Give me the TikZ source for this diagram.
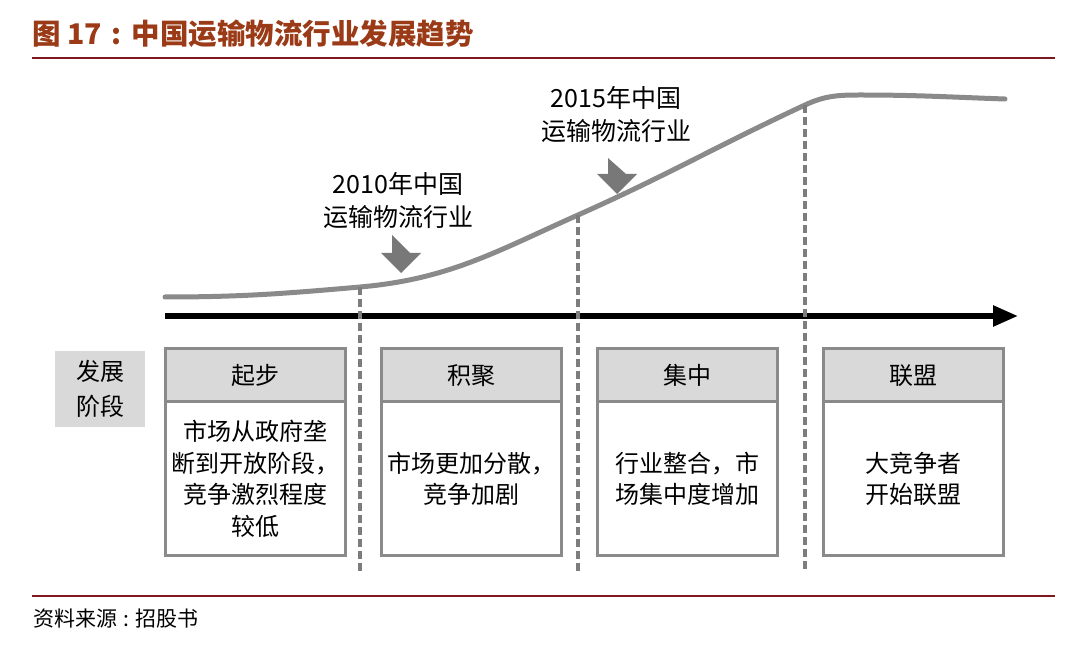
\documentclass[tikz,border=0pt]{standalone}
\usepackage{fontspec}
\newfontfamily\cjk{Noto Sans CJK SC}
\usetikzlibrary{arrows.meta,positioning}
\definecolor{titlebrown}{RGB}{155,58,22}
\definecolor{rulered}{RGB}{125,25,30}
\definecolor{linegray}{RGB}{138,138,138}
\definecolor{dashgray}{RGB}{125,125,125}
\definecolor{headgray}{RGB}{217,217,217}
\definecolor{arrowgray}{RGB}{120,120,120}
\tikzset{
  stagehead/.style={draw=linegray, line width=3pt, fill=headgray, outer sep=0pt,
    minimum width=180pt, minimum height=53pt, inner sep=0pt,
    font=\cjk\fontsize{24}{30}\selectfont},
  stagebody/.style={draw=linegray, line width=3pt, fill=white, outer sep=0pt,
    minimum width=180pt, minimum height=154pt, inner sep=0pt, align=center,
    font=\cjk\fontsize{24}{31.5}\selectfont},
  yearlabel/.style={align=center, inner sep=0pt, font=\cjk\fontsize{25}{33}\selectfont},
  phaseline/.style={draw=dashgray, line width=3.6pt, dash pattern=on 8pt off 4pt},
  downarrow/.style={fill=arrowgray},
}
\begin{document}
\begin{tikzpicture}[x=1pt,y=1pt]
  \useasboundingbox (0,0) rectangle (1080,646);
  % title and rules
  \node[anchor=west, inner sep=0pt, text=titlebrown, font=\cjk\bfseries\fontsize{28.5}{30}\selectfont]
    (title) at (32,612) {图 17\hspace{10pt}:\hspace{10pt}中国运输物流行业发展趋势};
  \draw[rulered, line width=1.8pt] (32,588) -- (1055,588);
  \draw[rulered, line width=1.8pt] (32,50) -- (1055,50);
  \node[anchor=west, inner sep=0pt, font=\cjk\fontsize{21}{24}\selectfont]
    (source) at (33,27) {资料来源\hspace{6pt}:\hspace{6pt}招股书};

  % growth curve
  \coordinate (c0) at (165,349);
  \coordinate (c1) at (360,359);
  \coordinate (c2) at (578,431);
  \coordinate (c3) at (805,541);
  \coordinate (c4) at (860,551);
  \coordinate (c5) at (1005,547);
  \draw[linegray, line width=5pt, line cap=round]
    (c0) to[out=0,in=185] (c1)
    to[out=5,in=204] (c2)
    to[out=24,in=205] (c3)
    to[out=25,in=180] (c4)
    to[out=0,in=178] (c5);

  % time axis
  \coordinate (a0) at (165,330);
  \coordinate (a1) at (1018,330);
  \draw[line width=5.5pt, -{Triangle[length=25pt,width=20pt]}] (a0) -- (a1);

  % phase borders
  \coordinate (base) at (0,74);
  \draw[phaseline] (c1) -- (c1 |- base);
  \draw[phaseline] (c2) -- (c2 |- base);
  \draw[phaseline] (c3) -- (c3 |- base);

  % markers
  \node[yearlabel] (y2010) at (398,445) {2010年中国\\运输物流行业};
  \fill[downarrow, shift={(401,411)}] (-9,0) -- (-9,-18) -- (-20,-18) -- (0,-38) -- (20,-18) -- (9,-18) -- cycle;
  \node[yearlabel] (y2015) at (616,531) {2015年中国\\运输物流行业};
  \fill[downarrow, shift={(617,488)}] (-9,0) -- (-9,-16) -- (-20,-16) -- (0,-36) -- (20,-16) -- (9,-16) -- cycle;

  % stages
  \node[fill=headgray, minimum width=90pt, minimum height=76pt, inner sep=0pt, align=center,
    font=\cjk\fontsize{24}{35}\selectfont] (stage) at (100,257) {发展\\阶段};

  \node[stagehead] (h1) at (255,270.5) {起步};
  \node[stagebody, below=0pt of h1] (b1) {市场从政府垄\\断到开放阶段，\\竞争激烈程度\\较低};
  \node[stagehead] (h2) at (471,270.5) {积聚};
  \node[stagebody, below=0pt of h2] (b2) {市场更加分散，\\竞争加剧};
  \node[stagehead] (h3) at (687,270.5) {集中};
  \node[stagebody, below=0pt of h3] (b3) {行业整合，市\\场集中度增加};
  \node[stagehead] (h4) at (913,270.5) {联盟};
  \node[stagebody, below=0pt of h4] (b4) {大竞争者\\开始联盟};
\end{tikzpicture}
\end{document}
